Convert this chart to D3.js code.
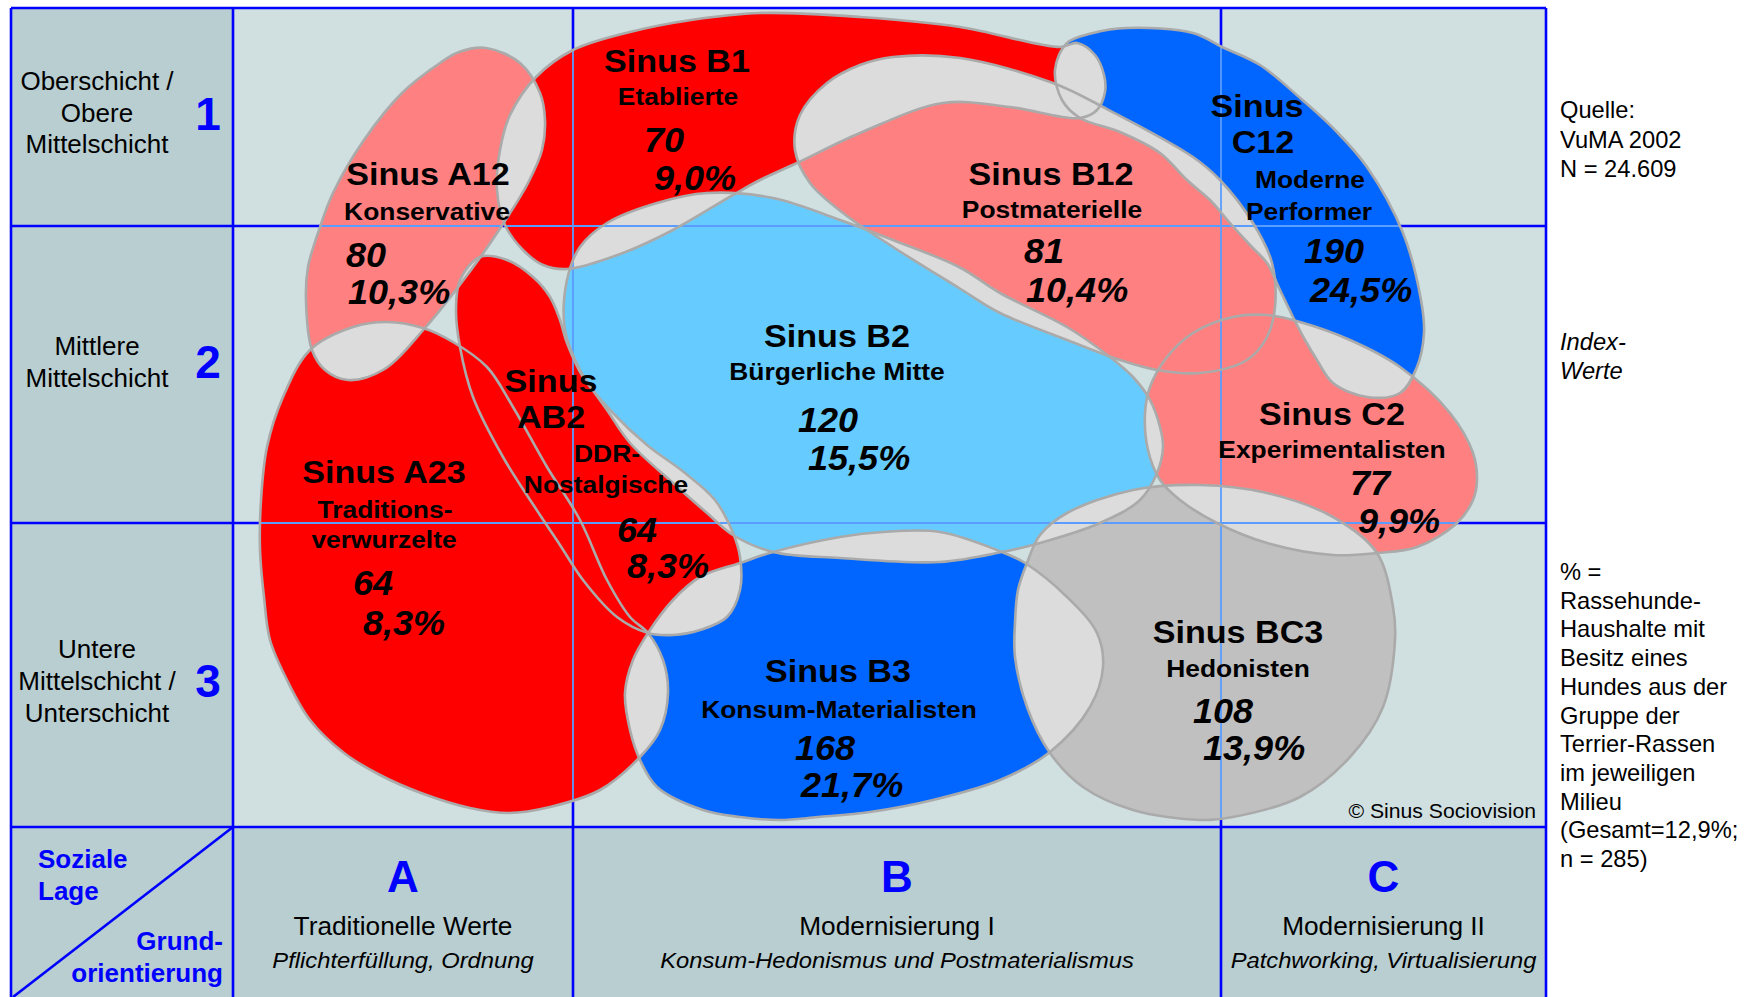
<!DOCTYPE html>
<html><head><meta charset="utf-8">
<script src="https://cdn.jsdelivr.net/npm/d3@7"></script>
<style>html,body{margin:0;padding:0;background:#fff;} svg{display:block;}</style>
</head><body><svg id="chart" width="1760" height="997"></svg>
<script>
// ---------------- DATA ----------------
const milieuIds = ["A12","B1","B12","C12","B2","AB2","A23","C2","B3","BC3"];
const titleLines = [["Sinus A12"],["Sinus B1"],["Sinus B12"],["Sinus","C12"],["Sinus B2"],["Sinus","AB2"],["Sinus A23"],["Sinus C2"],["Sinus B3"],["Sinus BC3"]];
const subtitleLines = [["Konservative"],["Etablierte"],["Postmaterielle"],["Moderne","Performer"],["Bürgerliche Mitte"],["DDR-","Nostalgische"],["Traditions-","verwurzelte"],["Experimentalisten"],["Konsum-Materialisten"],["Hedonisten"]];
const indexValues = [80,70,81,190,120,64,64,77,168,108];
const shareValues = [10.3,9.0,10.4,24.5,15.5,8.3,8.3,9.9,21.7,13.9];
const colorGroup = ["salmon","red","salmon","blue","light","red","red","salmon","blue","grey"];

// milieu outlines in map units (Grundorientierung across, soziale Lage down)
const outlineA12 = [[25.3,3.9],[28.7,5.4],[30.7,8.4],[31.2,11.1],[30.9,14.1],[29.5,17.4],[26.8,21.8],[23.8,26.1],[19.2,31.9],[15.0,36.1],[11.5,37.1],[9.2,36.1],[7.9,34.1],[7.3,29.1],[7.5,25.8],[8.5,22.4],[10.0,18.4],[13.1,13.1],[16.9,8.4],[20.7,5.4],[22.6,4.3]];
const outlineB1 = [[33.4,26.0],[31.0,25.6],[29.0,24.1],[27.2,21.6],[26.4,18.1],[26.7,14.1],[27.7,10.6],[30.3,6.8],[34.0,4.1],[39.7,2.3],[45.8,1.1],[52.7,0.4],[62.7,0.8],[72.7,1.8],[82.7,3.8],[84.4,3.4],[86.2,4.6],[87.1,6.6],[87.2,8.3],[86.4,10.1],[84.7,10.9],[77.7,9.8],[71.0,9.4],[62.7,12.4],[56.4,15.4],[52.7,17.1],[50.0,18.6],[44.0,22.1],[39.0,24.4]];
const outlineB12 = [[56.2,14.1],[56.7,10.6],[59.4,7.4],[62.7,5.6],[66.0,4.8],[72.7,4.9],[82.0,7.4],[87.0,9.8],[96.0,14.8],[98.7,17.1],[102.0,21.4],[103.9,25.4],[104.2,29.8],[103.4,32.8],[101.4,35.1],[96.7,36.4],[92.4,36.1],[88.7,35.1],[83.4,33.1],[76.7,30.4],[72.6,27.9],[66.0,23.8],[61.0,20.4],[57.7,17.4]];
const outlineC12 = [[84.7,10.9],[82.9,9.1],[82.2,6.1],[83.4,3.4],[86.0,2.4],[89.4,1.9],[96.0,2.4],[98.9,3.8],[102.7,5.6],[106.6,8.8],[110.2,12.1],[113.4,15.8],[117.0,22.4],[118.8,29.1],[119.1,32.4],[118.4,35.8],[116.7,38.4],[113.4,38.8],[110.0,37.4],[108.4,35.1],[107.2,33.1],[106.0,30.8],[104.7,28.1],[103.4,25.4],[101.7,23.6],[99.7,21.4],[97.7,19.1],[95.4,17.1],[92.7,14.4],[88.7,12.3]];
const outlineB2 = [[33.4,27.1],[34.7,23.8],[37.4,21.4],[42.4,19.4],[47.4,18.4],[54.0,18.9],[60.7,21.1],[66.0,23.1],[72.6,25.8],[76.7,28.4],[83.4,31.8],[87.7,34.8],[90.0,36.8],[91.7,39.1],[92.7,41.8],[93.0,43.8],[92.4,46.4],[90.7,49.1],[86.7,51.4],[80.7,53.4],[76.9,54.3],[70.7,55.3],[60.7,54.9],[54.0,54.3],[50.0,52.6],[47.4,50.4],[44.0,47.4],[39.7,43.4],[37.4,40.1],[34.7,36.1],[33.2,32.1]];
const outlineAB2 = [[24.7,24.8],[27.4,25.1],[30.0,26.8],[31.7,28.8],[32.7,31.1],[33.4,33.4],[35.0,36.8],[38.0,40.4],[41.4,43.6],[45.2,46.4],[48.2,49.1],[50.0,52.4],[50.7,54.8],[50.7,58.1],[49.4,60.8],[46.7,62.1],[44.0,62.6],[41.5,62.4],[38.4,60.8],[35.0,57.1],[32.7,53.6],[30.7,50.6],[27.0,44.8],[24.0,38.8],[22.7,33.8],[22.3,30.1],[22.7,27.1]];
const outlineA23 = [[7.7,34.1],[12.0,31.8],[15.4,31.3],[19.0,31.9],[22.0,33.3],[25.4,35.8],[28.0,39.8],[31.4,45.8],[34.7,51.1],[37.4,57.1],[39.7,60.8],[41.5,62.4],[43.0,65.1],[43.5,68.4],[42.7,72.1],[40.7,74.8],[36.7,78.1],[31.7,79.8],[27.6,80.4],[23.7,79.9],[18.8,78.4],[14.7,76.6],[11.1,74.4],[7.7,71.1],[5.4,67.1],[3.7,63.1],[3.1,58.8],[2.7,54.1],[2.8,49.1],[3.4,43.8],[5.0,38.8]];
const outlineC2 = [[91.2,40.4],[91.7,37.8],[93.4,34.8],[96.0,32.4],[100.0,30.8],[103.4,30.6],[106.7,31.3],[111.7,33.1],[116.7,35.8],[121.7,40.4],[124.0,44.4],[124.4,47.1],[124.0,49.1],[122.4,51.4],[118.4,53.8],[114.4,54.4],[110.0,54.6],[103.4,53.4],[98.4,51.4],[94.7,49.1],[92.7,47.1],[91.5,44.1]];
const outlineB3 = [[41.5,62.4],[44.0,59.1],[46.7,56.8],[50.7,55.4],[54.0,54.3],[60.7,52.8],[65.0,52.3],[70.7,52.3],[76.9,54.3],[79.2,55.4],[83.4,58.8],[86.4,62.4],[87.0,65.8],[85.7,69.8],[81.7,74.3],[76.7,77.1],[70.0,79.1],[63.7,80.3],[58.5,80.8],[54.7,81.1],[50.7,80.8],[47.0,80.1],[42.4,77.8],[40.7,75.1],[39.7,72.1],[39.2,68.4],[40.0,65.1]];
const outlineBC3 = [[78.2,61.4],[78.5,58.1],[79.4,55.4],[80.7,52.6],[83.4,50.4],[90.0,48.1],[96.7,47.6],[103.4,48.4],[110.0,50.8],[114.4,54.4],[116.0,59.8],[116.2,63.1],[115.0,69.8],[111.7,74.8],[106.7,78.8],[100.0,80.8],[96.7,81.1],[90.0,80.1],[85.0,77.8],[81.7,74.4],[79.4,69.8],[78.2,64.8]];
const outlines = [outlineA12,outlineB1,outlineB12,outlineC12,outlineB2,outlineAB2,outlineA23,outlineC2,outlineB3,outlineBC3];

// grid boundaries in map units
const colBounds = [34.0, 98.8];
const rowBounds = [21.7, 51.4];

// axis labels
const rowLabels = [["Oberschicht /","Obere","Mittelschicht"],["Mittlere","Mittelschicht"],["Untere","Mittelschicht /","Unterschicht"]];
const rowNumbers = ["1","2","3"];
const colLetters = ["A","B","C"];
const colTitles = ["Traditionelle Werte","Modernisierung I","Modernisierung II"];
const colSubtitles = ["Pflichterfüllung, Ordnung","Konsum-Hedonismus und Postmaterialismus","Patchworking, Virtualisierung"];
const cornerTop = ["Soziale","Lage"];
const cornerBottom = ["Grund-","orientierung"];
const sourceNote = ["Quelle:","VuMA 2002","N = 24.609"];
const indexNote = ["Index-","Werte"];
const pctNote = ["% =","Rassehunde-","Haushalte mit","Besitz eines","Hundes aus der","Gruppe der","Terrier-Rassen","im jeweiligen","Milieu","(Gesamt=12,9%;","n = 285)"];
const copyright = "© Sinus Sociovision";

// ---------------- LAYOUT ----------------
const F = {left:11, top:8, right:1546, labelRight:233, plotTop:9, plotBottom:827, bottom:997};
const labelLayout = {
  A12:{title:[[19.5,17.6]], sub:[[19.4,21.1]], val:[11.3,25.8], pct:[11.5,29.5]},
  B1:{title:[[44.4,6.3]], sub:[[44.5,9.6]], val:[41.1,14.3], pct:[42.1,18.1]},
  B12:{title:[[81.8,17.6]], sub:[[81.9,20.9]], val:[79.1,25.4], pct:[79.3,29.3]},
  C12:{title:[[102.4,10.8],[103.0,14.4]], sub:[[107.7,17.9],[107.6,21.1]], val:[107.1,25.4], pct:[107.7,29.3]},
  B2:{title:[[60.4,33.8]], sub:[[60.4,37.1]], val:[56.5,42.3], pct:[57.5,46.1]},
  AB2:{title:[[31.8,38.3],[31.8,41.9]], sub:[[37.4,45.3],[37.3,48.4]], val:[38.4,53.3], pct:[39.4,56.9]},
  A23:{title:[[15.1,47.4]], sub:[[15.2,50.9],[15.1,53.9]], val:[12.0,58.6], pct:[13.0,62.6]},
  C2:{title:[[109.9,41.6]], sub:[[109.9,44.9]], val:[111.7,48.6], pct:[112.5,52.4]},
  B3:{title:[[60.5,67.3]], sub:[[60.6,70.9]], val:[56.2,75.1], pct:[56.8,78.8]},
  BC3:{title:[[100.5,63.4]], sub:[[100.5,66.8]], val:[96.0,71.4], pct:[97.0,75.1]}
};
const fills = {red:"#ff0000", salmon:"#ff8080", blue:"#0066ff", light:"#66ccff", grey:"#c0c0c0"};
const overlapFill = "#dcdcdc";
const lineBlue = "#0000ff";
const thinBlue = "#5a9cff";
const FONT = "'Liberation Sans', Arial, Helvetica, sans-serif";

const xMap = d3.scaleLinear().domain([0,131.3]).range([F.labelRight, F.right]);
const yMap = d3.scaleLinear().domain([0,81.8]).range([F.plotTop, F.plotBottom]);

const svg = d3.select("#chart");
const defs = svg.append("defs");
const line = d3.line().x(d=>xMap(d[0])).y(d=>yMap(d[1])).curve(d3.curveCatmullRomClosed.alpha(0.5));

function txt(g, x, y, s, o){
  return g.append("text")
    .attr("transform", `translate(${x},${y}) scale(${o.sx||1},1)`)
    .attr("text-anchor", o.anchor||"start")
    .attr("font-family", FONT)
    .attr("font-size", o.size)
    .attr("font-weight", o.weight||"normal")
    .attr("font-style", o.style||"normal")
    .attr("fill", o.fill||"#000")
    .text(s);
}

// backgrounds
svg.append("rect").attr("x",0).attr("y",0).attr("width",1760).attr("height",997).attr("fill","#ffffff");
svg.append("rect").attr("x",F.left).attr("y",F.top).attr("width",F.right-F.left).attr("height",F.bottom-F.top).attr("fill","#b8ced1");
svg.append("rect").attr("x",xMap(0)).attr("y",yMap(0)).attr("width",xMap(131.3)-xMap(0)).attr("height",yMap(81.8)-yMap(0)).attr("fill","#d0dfe0");

// thick grid lines (under milieus)
const gLines = svg.append("g").attr("stroke",lineBlue).attr("stroke-width",2.6).attr("fill","none");
colBounds.forEach(c=>gLines.append("line").attr("x1",xMap(c)).attr("x2",xMap(c)).attr("y1",F.top).attr("y2",F.bottom));
rowBounds.forEach(r=>gLines.append("line").attr("x1",F.left).attr("x2",F.right).attr("y1",yMap(r)).attr("y2",yMap(r)));

// clip paths
outlines.forEach((o,i)=>{
  defs.append("clipPath").attr("id","clip-"+milieuIds[i]).append("path").attr("d", line(o));
});
const unionClip = defs.append("clipPath").attr("id","clip-union");
outlines.forEach(o=>unionClip.append("path").attr("d", line(o)));

// fills
const gBlobs = svg.append("g");
outlines.forEach((o,i)=>{
  gBlobs.append("path").attr("d", line(o)).attr("fill", fills[colorGroup[i]]);
});
// overlaps of differently coloured milieus
const gOver = svg.append("g");
for(let i=0;i<outlines.length;i++){
  for(let j=i+1;j<outlines.length;j++){
    if(colorGroup[i]===colorGroup[j]) continue;
    gOver.append("path").attr("d", line(outlines[j])).attr("fill", overlapFill)
      .attr("clip-path", `url(#clip-${milieuIds[i]})`);
  }
}
// thin grid lines over milieus
const gThin = svg.append("g").attr("clip-path","url(#clip-union)").attr("stroke",thinBlue).attr("stroke-width",1.8);
colBounds.forEach(c=>gThin.append("line").attr("x1",xMap(c)).attr("x2",xMap(c)).attr("y1",yMap(0)).attr("y2",yMap(81.8)));
rowBounds.forEach(r=>gThin.append("line").attr("x1",xMap(0)).attr("x2",xMap(131.3)).attr("y1",yMap(r)).attr("y2",yMap(r)));

// outlines
const gStroke = svg.append("g").attr("fill","none").attr("stroke","#aaaaaa").attr("stroke-width",2.6);
outlines.forEach(o=>gStroke.append("path").attr("d", line(o)));

// frame lines
const gFrame = svg.append("g").attr("stroke",lineBlue).attr("stroke-width",2.6);
gFrame.append("line").attr("x1",F.left).attr("x2",F.right).attr("y1",F.top).attr("y2",F.top);
gFrame.append("line").attr("x1",F.left).attr("x2",F.left).attr("y1",F.top).attr("y2",F.bottom);
gFrame.append("line").attr("x1",F.right).attr("x2",F.right).attr("y1",F.top).attr("y2",F.bottom);
gFrame.append("line").attr("x1",F.labelRight).attr("x2",F.labelRight).attr("y1",F.top).attr("y2",F.bottom);
gFrame.append("line").attr("x1",F.left).attr("x2",F.right).attr("y1",F.plotBottom).attr("y2",F.plotBottom);
gFrame.append("line").attr("x1",F.labelRight).attr("x2",F.left+2).attr("y1",F.plotBottom).attr("y2",F.bottom);

// milieu labels
const de = d3.formatLocale({decimal:",", thousands:".", grouping:[3], currency:["","€"]});
const fmtPct = de.format(".1f");
const gText = svg.append("g");
milieuIds.forEach((id,i)=>{
  const L = labelLayout[id];
  titleLines[i].forEach((s,k)=>txt(gText, xMap(L.title[k][0]), yMap(L.title[k][1]), s, {size:31, weight:"bold", anchor:"middle", sx:1.1}));
  subtitleLines[i].forEach((s,k)=>txt(gText, xMap(L.sub[k][0]), yMap(L.sub[k][1]), s, {size:24, weight:"bold", anchor:"middle", sx:1.1}));
  txt(gText, xMap(L.val[0]), yMap(L.val[1]), String(indexValues[i]), {size:35, weight:"bold", style:"italic", sx:1.03});
  txt(gText, xMap(L.pct[0]), yMap(L.pct[1]), fmtPct(shareValues[i])+"%", {size:35, weight:"bold", style:"italic", sx:1.03});
});

// row labels
const rowBaselines = [[90,122,153],[355,387],[658,690,722]];
const rowNumBaselines = [130,378,697];
rowLabels.forEach((lines,r)=>{
  lines.forEach((s,k)=>txt(gText, 97, rowBaselines[r][k], s, {size:25, anchor:"middle", sx:1.04}));
  txt(gText, 208, rowNumBaselines[r], rowNumbers[r], {size:46, weight:"bold", anchor:"middle", fill:lineBlue});
});
// column labels
const colEdges = [0, colBounds[0], colBounds[1], 131.3];
colLetters.forEach((s,c)=>{
  const cx = (xMap(colEdges[c])+xMap(colEdges[c+1]))/2;
  txt(gText, cx, 892, s, {size:44, weight:"bold", anchor:"middle", fill:lineBlue});
  txt(gText, cx, 935, colTitles[c], {size:25, anchor:"middle", sx:1.05});
  txt(gText, cx, 968, colSubtitles[c], {size:22, style:"italic", anchor:"middle", sx:1.08});
});
// corner
cornerTop.forEach((s,k)=>txt(gText, 38, 868+k*32, s, {size:25, weight:"bold", fill:lineBlue, sx:1.04}));
cornerBottom.forEach((s,k)=>txt(gText, 223, 950+k*32, s, {size:25, weight:"bold", fill:lineBlue, anchor:"end", sx:1.04}));
// notes
sourceNote.forEach((s,k)=>txt(gText, 1560, 118+k*29.5, s, {size:23, sx:1.03}));
indexNote.forEach((s,k)=>txt(gText, 1560, 350+k*28.5, s, {size:23, style:"italic", sx:1.03}));
pctNote.forEach((s,k)=>txt(gText, 1560, 580+k*28.7, s, {size:23, sx:1.03}));
txt(gText, 1536, 818, copyright, {size:20, anchor:"end", sx:1.06});
</script></body></html>
